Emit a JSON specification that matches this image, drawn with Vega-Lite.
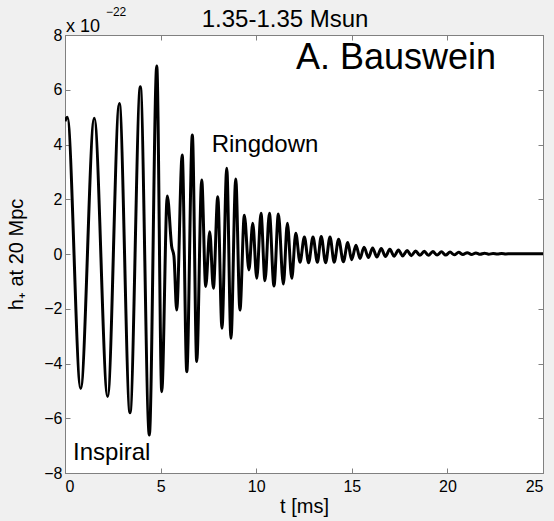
{
  "$schema": "https://vega.github.io/schema/vega-lite/v6.json",
  "width": 478,
  "height": 438,
  "autosize": {"type": "none"},
  "padding": {"left": 65, "top": 35, "right": 11, "bottom": 48},
  "background": "#f0f0f0",
  "config": {
    "font": "Liberation Sans",
    "view": {"fill": "white", "stroke": "#808080"},
    "axis": {
      "grid": false,
      "domainColor": "#808080",
      "tickColor": "#808080",
      "tickSize": -5,
      "labelColor": "black",
      "labelFontSize": 16,
      "labelFont": "Liberation Sans",
      "titleFont": "Liberation Sans",
      "titleFontSize": 20,
      "titleFontWeight": "normal",
      "titleColor": "black"
    }
  },
  "datasets": {
    "wave": [
      {"t": 0, "h": 4.85}, {"t": 0.12, "h": 5.0}, {"t": 0.82, "h": -4.91}, {"t": 1.53, "h": 4.96},
      {"t": 2.23, "h": -5.21}, {"t": 2.84, "h": 5.5}, {"t": 3.4, "h": -5.8}, {"t": 3.94, "h": 6.11},
      {"t": 4.41, "h": -6.61}, {"t": 4.8, "h": 6.87}, {"t": 5.06, "h": -5.03}, {"t": 5.35, "h": 2.12},
      {"t": 5.58, "h": 0.27}, {"t": 5.7, "h": -0.1}, {"t": 5.84, "h": -2.05}, {"t": 6.13, "h": 3.62},
      {"t": 6.37, "h": -4.3}, {"t": 6.66, "h": 4.35}, {"t": 6.89, "h": -3.93}, {"t": 7.15, "h": 2.7},
      {"t": 7.36, "h": -1.19}, {"t": 7.57, "h": 0.81}, {"t": 7.76, "h": -1.25}, {"t": 7.99, "h": 2.09},
      {"t": 8.21, "h": -2.71}, {"t": 8.46, "h": 3.13}, {"t": 8.68, "h": -3.08}, {"t": 8.93, "h": 2.74},
      {"t": 9.15, "h": -2.05}, {"t": 9.38, "h": 1.42}, {"t": 9.62, "h": -0.58}, {"t": 9.82, "h": 1.12},
      {"t": 10.03, "h": -0.89}, {"t": 10.25, "h": 1.49}, {"t": 10.46, "h": -0.98}, {"t": 10.69, "h": 1.49},
      {"t": 10.93, "h": -1.17}, {"t": 11.16, "h": 1.46}, {"t": 11.42, "h": -1.1}, {"t": 11.63, "h": 1.12},
      {"t": 11.86, "h": -0.89}, {"t": 12.07, "h": 0.76}, {"t": 12.29, "h": -0.3}, {"t": 12.52, "h": 0.62},
      {"t": 12.74, "h": -0.32}, {"t": 12.97, "h": 0.62}, {"t": 13.2, "h": -0.3}, {"t": 13.4, "h": 0.64},
      {"t": 13.63, "h": -0.32}, {"t": 13.86, "h": 0.62}, {"t": 14.08, "h": -0.3}, {"t": 14.31, "h": 0.54},
      {"t": 14.56, "h": -0.28}, {"t": 14.79, "h": 0.42}, {"t": 14.99, "h": -0.21}, {"t": 15.22, "h": 0.32},
      {"t": 15.43, "h": -0.16}, {"t": 15.64, "h": 0.25}, {"t": 15.87, "h": -0.13}, {"t": 16.09, "h": 0.22},
      {"t": 16.31, "h": -0.11}, {"t": 16.54, "h": 0.2}, {"t": 16.76, "h": -0.09}, {"t": 16.99, "h": 0.17},
      {"t": 17.21, "h": -0.08}, {"t": 17.44, "h": 0.15}, {"t": 17.66, "h": -0.07}, {"t": 17.89, "h": 0.13},
      {"t": 18.11, "h": -0.06}, {"t": 18.34, "h": 0.11}, {"t": 18.56, "h": -0.05}, {"t": 18.79, "h": 0.1},
      {"t": 19.01, "h": -0.05}, {"t": 19.24, "h": 0.09}, {"t": 19.46, "h": -0.04}, {"t": 19.69, "h": 0.08},
      {"t": 19.91, "h": -0.04}, {"t": 20.14, "h": 0.07}, {"t": 20.36, "h": -0.03}, {"t": 20.59, "h": 0.06},
      {"t": 20.81, "h": -0.02}, {"t": 21.04, "h": 0.05}, {"t": 21.26, "h": -0.02}, {"t": 21.49, "h": 0.04},
      {"t": 21.71, "h": -0.01}, {"t": 21.94, "h": 0.03}, {"t": 22.16, "h": -0.01}, {"t": 22.39, "h": 0.02},
      {"t": 22.61, "h": 0.0}, {"t": 22.84, "h": 0.02}, {"t": 23.06, "h": 0.0}, {"t": 23.3, "h": 0.01},
      {"t": 25, "h": 0.01}
    ],
    "big": [{"t": 12.08, "h": 6.77, "label": "A. Bauswein"}],
    "mid": [{"t": 7.67, "h": 3.74, "label": "Ringdown"}, {"t": 0.42, "h": -7.52, "label": "Inspiral"}],
    "heading": [{"t": 11.51, "h": 8.29, "label": "1.35-1.35 Msun"}],
    "mult": [{"t": 0.05, "h": 8.12, "label": "x 10"}],
    "expo": [{"t": 2.14, "h": 8.68, "label": "−22"}]
  },
  "layer": [
    {
      "data": {"name": "wave"},
      "mark": {"type": "line", "interpolate": "monotone", "color": "black", "strokeWidth": 3, "clip": true},
      "encoding": {
        "x": {"field": "t", "type": "quantitative", "scale": {"domain": [0, 25], "nice": false},
              "axis": {"orient": "bottom", "values": [0, 5, 10, 15, 20, 25], "title": "t [ms]", "labelPadding": 10, "titlePadding": 2}},
        "y": {"field": "h", "type": "quantitative", "scale": {"domain": [-8, 8], "nice": false},
              "axis": {"orient": "left", "values": [-8, -6, -4, -2, 0, 2, 4, 6, 8], "title": "h₊ at 20 Mpc", "labelPadding": 8, "titlePadding": 17}}
      }
    },
    {
      "data": {"name": "wave"},
      "mark": {"type": "line", "opacity": 0},
      "encoding": {
        "x": {"field": "t", "type": "quantitative", "axis": {"orient": "top", "values": [0, 5, 10, 15, 20, 25], "labels": false, "title": null}},
        "y": {"field": "h", "type": "quantitative", "axis": {"orient": "right", "values": [-8, -6, -4, -2, 0, 2, 4, 6, 8], "labels": false, "title": null}}
      }
    },
    {
      "data": {"name": "big"},
      "mark": {"type": "text", "align": "left", "baseline": "alphabetic", "fontSize": 36, "color": "black", "font": "Liberation Sans"},
      "encoding": {"x": {"field": "t", "type": "quantitative", "axis": null}, "y": {"field": "h", "type": "quantitative", "axis": null}, "text": {"field": "label"}}
    },
    {
      "data": {"name": "mid"},
      "mark": {"type": "text", "align": "left", "baseline": "alphabetic", "fontSize": 24, "color": "black", "font": "Liberation Sans"},
      "encoding": {"x": {"field": "t", "type": "quantitative", "axis": null}, "y": {"field": "h", "type": "quantitative", "axis": null}, "text": {"field": "label"}}
    },
    {
      "data": {"name": "heading"},
      "mark": {"type": "text", "align": "center", "baseline": "alphabetic", "fontSize": 24, "color": "black", "font": "Liberation Sans"},
      "encoding": {"x": {"field": "t", "type": "quantitative", "axis": null}, "y": {"field": "h", "type": "quantitative", "axis": null}, "text": {"field": "label"}}
    },
    {
      "data": {"name": "mult"},
      "mark": {"type": "text", "align": "left", "baseline": "alphabetic", "fontSize": 18, "color": "black", "font": "Liberation Sans"},
      "encoding": {"x": {"field": "t", "type": "quantitative", "axis": null}, "y": {"field": "h", "type": "quantitative", "axis": null}, "text": {"field": "label"}}
    },
    {
      "data": {"name": "expo"},
      "mark": {"type": "text", "align": "left", "baseline": "alphabetic", "fontSize": 12, "color": "black", "font": "Liberation Sans"},
      "encoding": {"x": {"field": "t", "type": "quantitative", "axis": null}, "y": {"field": "h", "type": "quantitative", "axis": null}, "text": {"field": "label"}}
    }
  ],
  "resolve": {"axis": {"x": "independent", "y": "independent"}}
}
